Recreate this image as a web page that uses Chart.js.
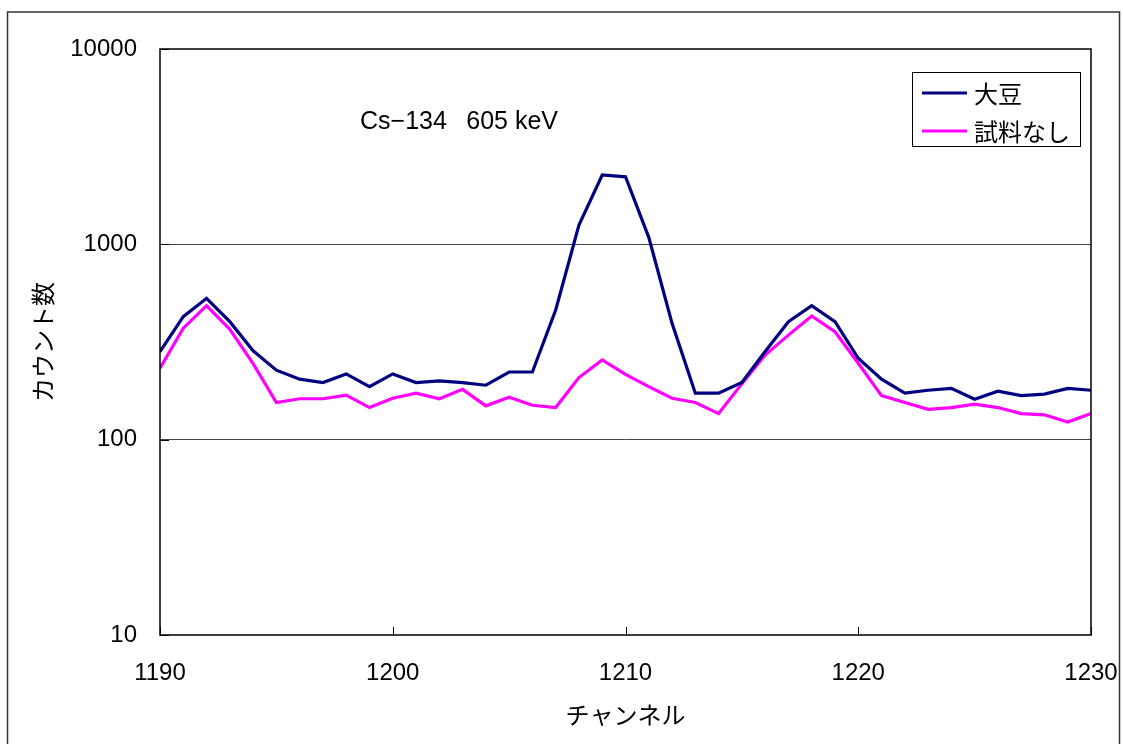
<!DOCTYPE html>
<html>
<head>
<meta charset="utf-8">
<style>
  html, body { margin: 0; padding: 0; background: #fff; }
  canvas { display: block; }
</style>
<script src="https://cdn.jsdelivr.net/npm/chart.js@4/dist/chart.umd.min.js"></script>
</head>
<body>
<canvas id="c" width="1123" height="744"></canvas>
<script>
// Channel numbers and measured counts (log scale)
const channels = [
  1190, 1191, 1192, 1193, 1194, 1195, 1196, 1197, 1198, 1199,
  1200, 1201, 1202, 1203, 1204, 1205, 1206, 1207, 1208, 1209,
  1210, 1211, 1212, 1213, 1214, 1215, 1216, 1217, 1218, 1219,
  1220, 1221, 1222, 1223, 1224, 1225, 1226, 1227, 1228, 1229, 1230
];
const soybeanCounts = [
  282, 426, 529, 402, 285, 227, 204, 196, 217, 187,
  217, 196, 200, 196, 190, 222, 222, 461, 1256, 2264,
  2217, 1086, 394, 173, 173, 196, 283, 402, 485, 402,
  261, 204, 173, 179, 183, 161, 177, 168, 171, 183, 179
];
const blankCounts = [
  232, 372, 485, 367, 245, 155, 162, 162, 169, 146,
  163, 173, 162, 181, 149, 165, 150, 146, 208, 256,
  216, 187, 163, 155, 136, 193, 271, 343, 430, 357,
  246, 168, 155, 143, 146, 152, 146, 136, 134, 123, 136
];
const seriesNames = ['大豆', '試料なし'];
const yTicks = [10, 100, 1000, 10000];
const xTicks = [1190, 1200, 1210, 1220, 1230];
const peakLabel = 'Cs\u2212134\u2002 605 keV';
const xTitle = 'チャンネル';
const yTitle = 'カウント数';

const NUM_FONT = "'Liberation Sans', Arial, sans-serif";
const JP_FONT = "'Noto Sans CJK JP', sans-serif";

const toPoints = (vals) => channels.map((c, i) => ({ x: c, y: vals[i] }));

// Frame, plot border, inward ticks, label and legend
const decorations = {
  id: 'decorations',
  beforeDraw(chart) {
    const { ctx } = chart;
    ctx.save();
    ctx.fillStyle = '#fff';
    ctx.fillRect(0, 0, chart.width, chart.height);
    ctx.restore();
  },
  afterDraw(chart) {
    const { ctx, chartArea: a, scales } = chart;
    ctx.save();
    // outer frame
    ctx.strokeStyle = '#333';
    ctx.lineWidth = 1.5;
    ctx.strokeRect(7.5, 12, 1112, 760);
    // plot border
    ctx.strokeStyle = '#000';
    ctx.lineWidth = 1.5;
    ctx.strokeRect(a.left, a.top, a.right - a.left, a.bottom - a.top);
    // inward ticks on x axis
    ctx.lineWidth = 1;
    ctx.beginPath();
    xTicks.forEach(v => {
      const px = Math.round(scales.x.getPixelForValue(v)) + 0.5;
      ctx.moveTo(px, a.bottom);
      ctx.lineTo(px, a.bottom - 8);
    });
    // inward ticks on y axis
    yTicks.forEach(v => {
      const py = Math.round(scales.y.getPixelForValue(v)) + 0.5;
      ctx.moveTo(a.left, py);
      ctx.lineTo(a.left + 9, py);
    });
    ctx.stroke();

    // peak annotation
    ctx.fillStyle = '#000';
    ctx.font = '25px ' + NUM_FONT;
    ctx.textBaseline = 'middle';
    ctx.textAlign = 'left';
    ctx.fillText(peakLabel, a.left + 200, a.top + 73);

    // legend
    const bx = a.right - 179, by = a.top + 23, bw = 168, bh = 74;
    ctx.fillStyle = '#fff';
    ctx.fillRect(bx, by, bw, bh);
    ctx.strokeStyle = '#000';
    ctx.lineWidth = 1;
    ctx.strokeRect(bx + 0.5, by + 0.5, bw, bh);
    chart.data.datasets.forEach((ds, i) => {
      const ly = by + 21 + i * 38;
      ctx.strokeStyle = ds.borderColor;
      ctx.lineWidth = 3;
      ctx.beginPath();
      ctx.moveTo(bx + 10, ly);
      ctx.lineTo(bx + 55, ly);
      ctx.stroke();
      ctx.fillStyle = '#000';
      ctx.font = '24px ' + JP_FONT;
      ctx.textBaseline = 'middle';
      ctx.fillText(ds.label, bx + 62, ly + 1);
    });
    ctx.restore();
  }
};

new Chart(document.getElementById('c'), {
  type: 'line',
  data: {
    datasets: [
      {
        label: seriesNames[0],
        data: toPoints(soybeanCounts),
        borderColor: '#000080',
        borderWidth: 3.2,
        pointRadius: 0,
        tension: 0,
        fill: false
      },
      {
        label: seriesNames[1],
        data: toPoints(blankCounts),
        borderColor: '#FF00FF',
        borderWidth: 3.2,
        pointRadius: 0,
        tension: 0,
        fill: false
      }
    ]
  },
  options: {
    responsive: false,
    animation: false,
    events: [],
    layout: { padding: { left: 0, top: 49, right: 32, bottom: 0 } },
    plugins: { legend: { display: false }, tooltip: { enabled: false } },
    scales: {
      x: {
        type: 'linear',
        min: 1190,
        max: 1230,
        afterBuildTicks: (s) => { s.ticks = xTicks.map(v => ({ value: v })); },
        afterFit: (s) => { s.height = 109; s.paddingLeft = 0; s.paddingRight = 0; },
        grid: { display: false, drawTicks: false },
        border: { display: false },
        ticks: {
          color: '#000',
          padding: 24,
          maxRotation: 0,
          autoSkip: false,
          font: { family: NUM_FONT, size: 24 },
          callback: (v) => String(v)
        },
        title: {
          display: true,
          text: xTitle,
          color: '#000',
          font: { family: JP_FONT, size: 24 },
          padding: { top: 0, bottom: 15 }
        }
      },
      y: {
        type: 'logarithmic',
        min: 10,
        max: 10000,
        afterBuildTicks: (s) => { s.ticks = yTicks.map(v => ({ value: v })); },
        afterFit: (s) => { s.width = 160; s.paddingTop = 0; s.paddingBottom = 0; },
        grid: {
          drawTicks: false,
          color: (c) => (c.tick && (c.tick.value === 100 || c.tick.value === 1000)) ? '#444' : 'rgba(0,0,0,0)',
          lineWidth: 1
        },
        border: { display: false },
        ticks: {
          color: '#000',
          padding: 23,
          font: { family: NUM_FONT, size: 24 },
          callback: (v) => String(v)
        },
        title: {
          display: true,
          text: yTitle,
          color: '#000',
          font: { family: JP_FONT, size: 24 },
          padding: { top: 28, bottom: 0 }
        }
      }
    }
  },
  plugins: [decorations]
});
</script>
</body>
</html>
